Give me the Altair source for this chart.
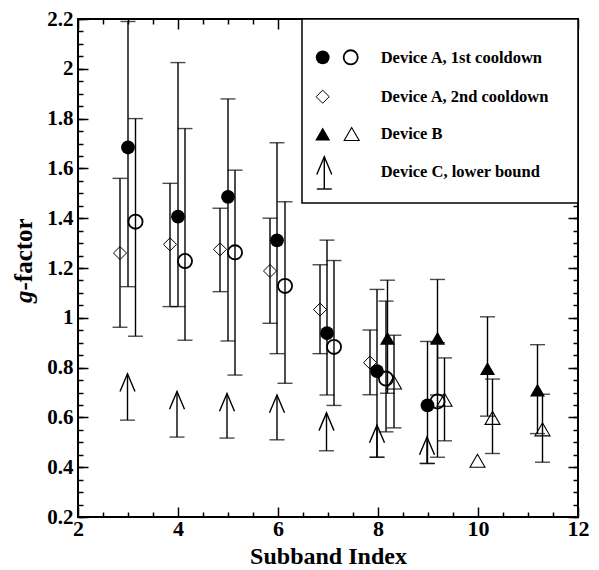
import altair as alt
import pandas as pd

# ---------------- data ----------------
# Device A, 1st cooldown - filled circles
a1f_x = [3.0, 4.0, 5.0, 5.98, 6.98, 7.98, 8.99]
a1f_y = [1.684, 1.406, 1.486, 1.311, 0.938, 0.786, 0.648]
a1f_lo = [1.125, 1.045, 0.907, 0.856, 0.69, 0.44, 0.415]
a1f_hi = [2.19, 2.025, 1.879, 1.703, 1.312, 1.114, 0.905]
# Device A, 1st cooldown - open circles
a1o_x = [3.15, 4.14, 5.14, 6.14, 7.12, 8.16, 9.19]
a1o_y = [1.386, 1.228, 1.263, 1.128, 0.883, 0.756, 0.664]
a1o_lo = [0.926, 0.91, 0.77, 0.737, 0.648, 0.542, 0.44]
a1o_hi = [1.80, 1.76, 1.593, 1.466, 1.23, 1.067, 0.90]
# Device A, 2nd cooldown - diamonds
a2_x = [2.84, 3.84, 4.84, 5.84, 6.84, 7.84]
a2_y = [1.26, 1.295, 1.275, 1.188, 1.033, 0.82]
a2_lo = [0.962, 1.045, 1.105, 0.978, 0.856, 0.691]
a2_hi = [1.56, 1.54, 1.44, 1.40, 1.213, 0.951]
# Device B - filled triangles
bf_x = [8.19, 9.19, 10.19, 11.19]
bf_y = [0.918, 0.918, 0.796, 0.71]
bf_lo = [0.697, 0.69, 0.605, 0.535]
bf_hi = [1.151, 1.154, 1.004, 0.892]
# Device B - open triangles
bo_x = [8.32, 9.33, 9.99, 10.29, 11.29]
bo_y = [0.74, 0.671, 0.426, 0.598, 0.552]
bo_lo = [0.558, 0.506, None, 0.455, 0.42]
bo_hi = [0.93, 0.839, None, 0.754, 0.693]
# Device C, lower bound - arrows
c_x = [2.99, 3.98, 4.98, 5.98, 6.97, 7.98, 8.98]
c_lo = [0.589, 0.521, 0.517, 0.51, 0.466, 0.44, 0.415]
c_tip = [0.775, 0.704, 0.696, 0.69, 0.618, 0.569, 0.521]

x_major = [2, 4, 6, 8, 10, 12]
x_minor = [2.5, 3, 3.5, 4.5, 5, 5.5, 6.5, 7, 7.5, 8.5, 9, 9.5, 10.5, 11, 11.5]
y_major = [0.2, 0.4, 0.6, 0.8, 1.0, 1.2, 1.4, 1.6, 1.8, 2.0, 2.2]
y_minor = [round(0.2 + 0.05 * i, 2) for i in range(41)]

legend_labels = ["Device A, 1st cooldown", "Device A, 2nd cooldown",
                 "Device B", "Device C, lower bound"]
x_title = "Subband Index"

# ---------------- tables ----------------
def series(name, xs, ys, los, his):
    return pd.DataFrame({"s": name, "x": xs, "y": ys, "lo": los, "hi": his})

pts = pd.concat([
    series("a1f", a1f_x, a1f_y, a1f_lo, a1f_hi),
    series("a1o", a1o_x, a1o_y, a1o_lo, a1o_hi),
    series("a2", a2_x, a2_y, a2_lo, a2_hi),
    series("bf", bf_x, bf_y, bf_lo, bf_hi),
    series("bo", bo_x, bo_y, bo_lo, bo_hi),
], ignore_index=True)
bars = pts.dropna(subset=["lo", "hi"])
caps = pd.concat([
    bars[["x", "lo"]].rename(columns={"lo": "v"}),
    bars[["x", "hi"]].rename(columns={"hi": "v"}),
    pd.DataFrame({"x": c_x, "v": c_lo}),
], ignore_index=True)
arrows = pd.DataFrame({"x": c_x, "lo": c_lo, "tip": c_tip})
dummy = pd.DataFrame({"x": [2.0], "y": [0.2]})

FONT = "Liberation Serif"
W, H = 500, 498
xs = alt.Scale(domain=[2, 12], nice=False, zero=False)
ys = alt.Scale(domain=[0.2, 2.2], nice=False, zero=False)
ARROW = "M-1,2.36L0,0L1,2.36"


def X(field="x", axis=None):
    return alt.X(f"{field}:Q", scale=xs, axis=axis)


def Y(field="y", axis=None):
    return alt.Y(f"{field}:Q", scale=ys, axis=axis)


# ---------------- axes (ticks pointing inward) ----------------
lab_x = alt.Axis(orient="bottom", values=x_major, tickSize=0, domain=False, grid=False,
                 labelFont=FONT, labelFontSize=22, labelFontWeight="bold", labelColor="black",
                 labelPadding=1, format="~g", labelFlush=False,
                 title=x_title, titleFont=FONT, titleFontSize=24, titleFontWeight="bold",
                 titleColor="black", titlePadding=5)
lab_y = alt.Axis(orient="left", values=y_major, tickSize=0, domain=False, grid=False,
                 labelFont=FONT, labelFontSize=21, labelFontWeight="bold", labelColor="black",
                 labelPadding=5, format="~g", labelFlush=False, title=None)


def tick_axis(orient, values, size, offset):
    return alt.Axis(orient=orient, values=values, tickSize=size, offset=offset,
                    labels=False, domain=False, grid=False, title=None,
                    tickColor="black", tickWidth=1.5)


def axis_layer(ax, ay):
    return alt.Chart(dummy).mark_point(opacity=0).encode(x=X(axis=ax), y=Y(axis=ay))


axis_layers = [
    axis_layer(lab_x, lab_y),
    axis_layer(tick_axis("top", x_major, 10, -H), tick_axis("right", y_major, 10, -W)),
    axis_layer(tick_axis("top", x_minor, 5, -H), tick_axis("right", y_minor, 5, -W)),
    axis_layer(tick_axis("bottom", x_major, 10, -H), tick_axis("left", y_major, 10, -W)),
    axis_layer(tick_axis("bottom", x_minor, 5, -H), tick_axis("left", y_minor, 5, -W)),
]

# ---------------- data marks ----------------
err = alt.Chart(bars).mark_rule(color="black", strokeWidth=1.4).encode(
    x=X(), y=Y("lo"), y2="hi:Q")
arr_rule = alt.Chart(arrows).mark_rule(color="black", strokeWidth=1.4).encode(
    x=X(), y=Y("lo"), y2="tip:Q")
cap = alt.Chart(caps).mark_tick(orient="horizontal", color="black", size=15,
                                thickness=1.4).encode(x=X(), y=Y("v"))
arr_head = alt.Chart(arrows).mark_point(shape=ARROW, filled=False, color="black",
                                        size=225, strokeWidth=1.4, opacity=1).encode(
    x=X(), y=Y("tip"))


def marker(name, shape, filled, size, sw=1.6):
    d = pts[pts["s"] == name]
    return alt.Chart(d).mark_point(shape=shape, filled=filled, size=size, color="black",
                                   strokeWidth=sw, opacity=1).encode(x=X(), y=Y())


markers = [
    marker("a1f", "circle", True, 190),
    marker("a1o", "circle", False, 200, 1.8),
    marker("a2", "diamond", False, 170, 1.0),
    marker("bf", "triangle-up", True, 225),
    marker("bo", "triangle-up", False, 225, 1.1),
]

# ---------------- legend (drawn inside the plot, top right) ----------------
one = pd.DataFrame({"k": [0]})


def lpoint(px, py, shape, filled, size, sw=1.6):
    return alt.Chart(one).mark_point(shape=shape, filled=filled, size=size, color="black",
                                     strokeWidth=sw, opacity=1).encode(
        x=alt.value(px), y=alt.value(py))


def ltext(py, label):
    return alt.Chart(one).mark_text(align="left", baseline="middle", font=FONT, fontSize=16.5,
                                    fontWeight="bold", color="black").encode(
        x=alt.value(302.7), y=alt.value(py), text=alt.value(label))


legend = [
    alt.Chart(one).mark_rect(fill="white", stroke="black", strokeWidth=1.5).encode(
        x=alt.value(224), x2=alt.value(W), y=alt.value(0), y2=alt.value(184)),
    lpoint(244.7, 38.3, "circle", True, 190),
    lpoint(272.7, 38.3, "circle", False, 200, 1.8),
    ltext(39, legend_labels[0]),
    lpoint(244.7, 77.7, "diamond", False, 170, 1.0),
    ltext(78, legend_labels[1]),
    lpoint(244.7, 115, "triangle-up", True, 225),
    lpoint(273.7, 115, "triangle-up", False, 225, 1.1),
    ltext(115, legend_labels[2]),
    alt.Chart(one).mark_rule(color="black", strokeWidth=1.4).encode(
        x=alt.value(246.3), y=alt.value(137.7), y2=alt.value(170)),
    alt.Chart(one).mark_rule(color="black", strokeWidth=1.4).encode(
        x=alt.value(238.8), x2=alt.value(253.8), y=alt.value(170)),
    lpoint(246.3, 137.7, ARROW, False, 225, 1.4),
    ltext(152.7, legend_labels[3]),
]

# ---------------- y title: italic g + "-factor" ----------------
ytitle = [
    alt.Chart(one).mark_text(angle=270, align="left", baseline="middle", font=FONT,
                             fontSize=25, fontWeight="bold", fontStyle="italic",
                             color="black").encode(
        x=alt.value(-54), y=alt.value(284), text=alt.value("g")),
    alt.Chart(one).mark_text(angle=270, align="left", baseline="middle", font=FONT,
                             fontSize=25, fontWeight="bold", color="black").encode(
        x=alt.value(-54), y=alt.value(271.5), text=alt.value("-factor")),
]

chart = alt.layer(
    *axis_layers, *legend, err, arr_rule, cap, arr_head, *markers, *ytitle
).resolve_axis(x="independent", y="independent").properties(
    width=W, height=H,
    autosize=alt.AutoSizeParams(type="none"),
    padding={"left": 70, "top": 11, "right": 13, "bottom": 51},
).configure_view(stroke="black", strokeWidth=2)

chart.save("out.html", embed_options={"renderer": "svg", "actions": False})
